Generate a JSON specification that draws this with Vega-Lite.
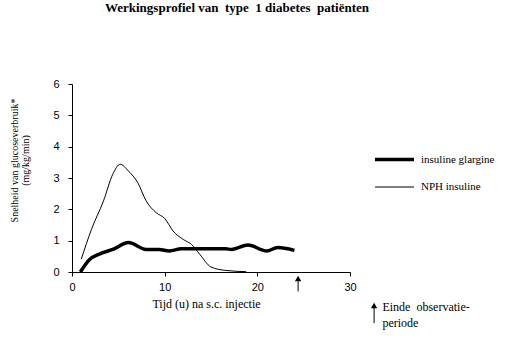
{
  "$schema": "https://vega.github.io/schema/vega-lite/v6.json",
  "width": 278,
  "height": 188,
  "autosize": "none",
  "padding": {"left": 72, "top": 84, "right": 158, "bottom": 66},
  "background": "white",
  "config": {"view": {"stroke": null}, "axis": {"grid": false}},
  "title": {
    "text": "Werkingsprofiel van\u00a0 type\u00a0 1 diabetes\u00a0 patiënten",
    "font": "Liberation Serif",
    "fontSize": 13,
    "fontWeight": "bold",
    "color": "black",
    "anchor": "middle",
    "dx": 26,
    "offset": 63
  },
  "datasets": {
    "curves": [
      {"t": 1.0, "v": 0.41, "s": "NPH insuline"},
      {"t": 2.1, "v": 1.36, "s": "NPH insuline"},
      {"t": 3.4, "v": 2.27, "s": "NPH insuline"},
      {"t": 4.4, "v": 3.12, "s": "NPH insuline"},
      {"t": 5.2, "v": 3.44, "s": "NPH insuline"},
      {"t": 6.1, "v": 3.22, "s": "NPH insuline"},
      {"t": 7.1, "v": 2.85, "s": "NPH insuline"},
      {"t": 8.0, "v": 2.27, "s": "NPH insuline"},
      {"t": 9.1, "v": 1.89, "s": "NPH insuline"},
      {"t": 10.0, "v": 1.71, "s": "NPH insuline"},
      {"t": 10.9, "v": 1.31, "s": "NPH insuline"},
      {"t": 12.0, "v": 1.04, "s": "NPH insuline"},
      {"t": 12.9, "v": 0.88, "s": "NPH insuline"},
      {"t": 13.8, "v": 0.56, "s": "NPH insuline"},
      {"t": 15.0, "v": 0.16, "s": "NPH insuline"},
      {"t": 16.6, "v": 0.05, "s": "NPH insuline"},
      {"t": 18.8, "v": 0.01, "s": "NPH insuline"},
      {"t": 0.9, "v": 0.0, "s": "insuline glargine"},
      {"t": 1.9, "v": 0.4, "s": "insuline glargine"},
      {"t": 3.0, "v": 0.58, "s": "insuline glargine"},
      {"t": 4.4, "v": 0.72, "s": "insuline glargine"},
      {"t": 6.1, "v": 0.94, "s": "insuline glargine"},
      {"t": 8.0, "v": 0.72, "s": "insuline glargine"},
      {"t": 9.4, "v": 0.72, "s": "insuline glargine"},
      {"t": 10.5, "v": 0.67, "s": "insuline glargine"},
      {"t": 11.8, "v": 0.74, "s": "insuline glargine"},
      {"t": 16.6, "v": 0.74, "s": "insuline glargine"},
      {"t": 17.2, "v": 0.72, "s": "insuline glargine"},
      {"t": 19.0, "v": 0.86, "s": "insuline glargine"},
      {"t": 21.0, "v": 0.67, "s": "insuline glargine"},
      {"t": 22.2, "v": 0.78, "s": "insuline glargine"},
      {"t": 24.0, "v": 0.69, "s": "insuline glargine"}
    ],
    "shafts": [
      {"t": 24.4, "v": -0.29, "v2": -0.62},
      {"t": 32.6, "v": -1.12, "v2": -1.63}
    ],
    "heads": [
      {"t": 24.4, "v": -0.21},
      {"t": 32.6, "v": -1.07}
    ],
    "notes": [
      {"t": 33.5, "v": -1.245, "label": "Einde\u00a0 observatie-"},
      {"t": 33.5, "v": -1.76, "label": "periode"}
    ]
  },
  "encoding": {
    "x": {
      "field": "t", "type": "quantitative",
      "scale": {"domain": [0, 30], "nice": false},
      "axis": {
        "values": [0, 10, 20, 30], "title": "Tijd (u) na s.c. injectie",
        "labelFlush": false, "labelOverlap": false,
        "domainColor": "black", "tickColor": "black", "tickSize": 4,
        "labelFont": "Liberation Sans", "labelFontSize": 11, "labelColor": "black", "labelPadding": 5,
        "titleFont": "Liberation Serif", "titleFontSize": 12, "titleFontWeight": "normal", "titleColor": "black",
        "titlePadding": 6, "titleX": 134
      }
    },
    "y": {
      "field": "v", "type": "quantitative",
      "scale": {"domain": [0, 6], "nice": false},
      "axis": {
        "values": [0, 1, 2, 3, 4, 5, 6],
        "title": ["Snelheid van glucoseverbruik*", "(mg/kg/min)"],
        "labelOverlap": false, "labelFlush": false,
        "domainColor": "black", "tickColor": "black", "tickSize": 4,
        "labelFont": "Liberation Sans", "labelFontSize": 11, "labelColor": "black", "labelPadding": 9,
        "titleFont": "Liberation Serif", "titleFontSize": 10, "titleFontWeight": "normal", "titleColor": "black",
        "titleX": -63, "titleY": 76, "titleBaseline": "top", "titleLineHeight": 11, "titleAlign": "center"
      }
    }
  },
  "layer": [
    {
      "data": {"name": "curves"},
      "mark": {"type": "line", "interpolate": "monotone", "color": "black", "clip": false},
      "encoding": {
        "strokeWidth": {
          "field": "s", "type": "nominal",
          "scale": {"domain": ["insuline glargine", "NPH insuline"], "range": [3.5, 1]},
          "legend": {
            "title": null, "orient": "none", "legendX": 301, "legendY": 54,
            "symbolType": "stroke", "symbolSize": 1521, "symbolStrokeColor": "black",
            "labelFont": "Liberation Serif", "labelFontSize": 11, "labelColor": "black",
            "labelOffset": 5, "rowPadding": -33
          }
        },
        "detail": {"field": "s"}
      }
    },
    {
      "data": {"name": "shafts"},
      "mark": {"type": "rule", "color": "black", "strokeWidth": 1, "clip": false},
      "encoding": {
        "y2": {"field": "v2"}
      }
    },
    {
      "data": {"name": "heads"},
      "mark": {"type": "point", "shape": "triangle-up", "filled": true, "color": "black", "size": 40, "opacity": 1, "clip": false},
      "encoding": {}
    },
    {
      "data": {"name": "notes"},
      "mark": {"type": "text", "align": "left", "baseline": "alphabetic", "font": "Liberation Serif", "fontSize": 12, "color": "black", "clip": false},
      "encoding": {
        "text": {"field": "label"}
      }
    }
  ]
}
